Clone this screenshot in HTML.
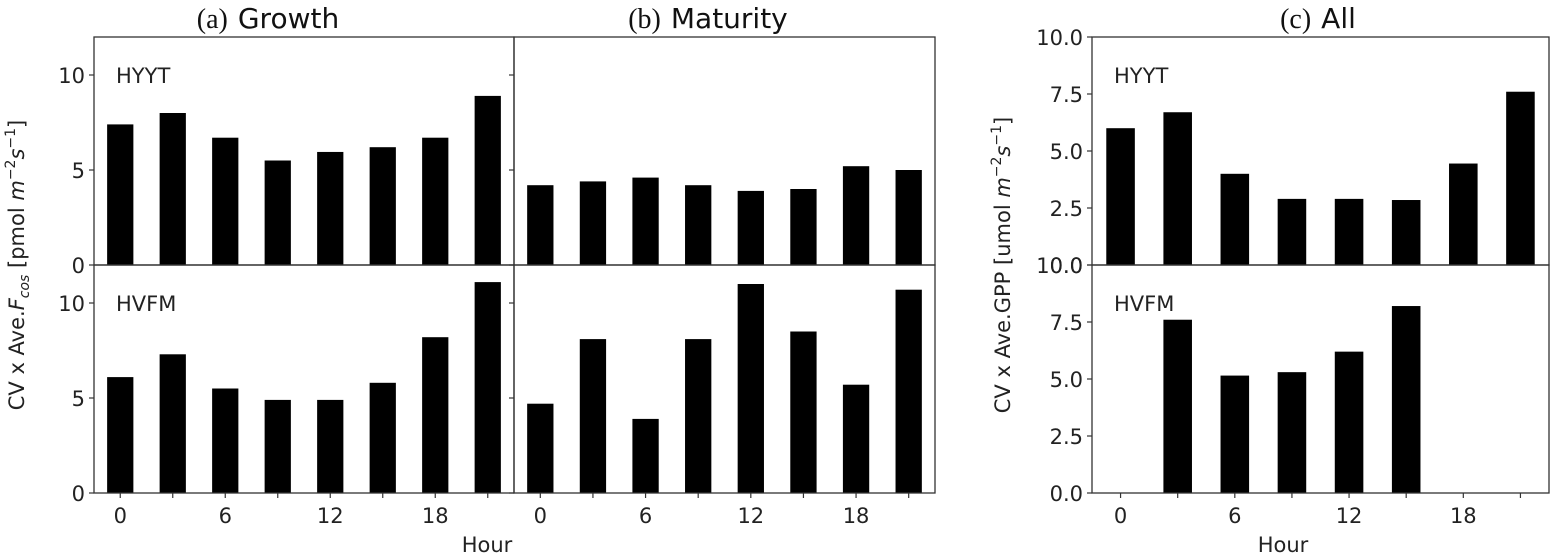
<!DOCTYPE html>
<html><head><meta charset="utf-8">
<style>
html,body{margin:0;padding:0;background:#fff;}
svg{display:block;font-family:"DejaVu Sans","Liberation Sans",sans-serif;}
</style></head>
<body>
<svg id="chart" width="1550" height="559" viewBox="0 0 1550 559" xmlns="http://www.w3.org/2000/svg"></svg>
<script>
const hours = [0,3,6,9,12,15,18,21];
const xTickLabels = [0,6,12,18];
const growthHYYT = [7.4,8.0,6.7,5.5,5.95,6.2,6.7,8.9];
const growthHVFM = [6.1,7.3,5.5,4.9,4.9,5.8,8.2,11.1];
const maturityHYYT = [4.2,4.4,4.6,4.2,3.9,4.0,5.2,5.0];
const maturityHVFM = [4.7,8.1,3.9,8.1,11.0,8.5,5.7,10.7];
const allHYYT = [6.0,6.7,4.0,2.9,2.9,2.85,4.45,7.6];
const allHVFM = [0,7.6,5.15,5.3,6.2,8.2,0,0];
const ticksAB = [0,5,10];
const ticksC = [0,2.5,5,7.5,10];

const svg = document.getElementById('chart');
const NS = 'http://www.w3.org/2000/svg';
function mk(tag, attrs, parent){
  const e = document.createElementNS(NS, tag);
  for (const k in attrs) e.setAttribute(k, attrs[k]);
  (parent||svg).appendChild(e);
  return e;
}

function panel(name, x0, x1, yTop, yBot, ymax, vals, site, yticks, showY, showX, fmt){
  const g = mk('g', {});
  
  
  const xs = h => x0 + (h + 1.5) / 24 * (x1 - x0);
  const ys = v => yBot - v / ymax * (yBot - yTop);
  const bw = 1.5 / 24 * (x1 - x0);
  vals.forEach((v, i) => {
    if (v <= 0) return;
    const r = mk('rect', {x: xs(hours[i]) - bw/2, y: ys(v), width: bw, height: yBot - ys(v), fill: '#000'}, g);
    
    
  });
  const fr = mk('rect', {x: x0, y: yTop, width: x1 - x0, height: yBot - yTop, fill: 'none', stroke: '#333', 'stroke-width': 1.3}, g);
  
  
  yticks.forEach(t => {
    const y = ys(t);
    mk('line', {x1: x0 - 5, x2: x0, y1: y, y2: y, stroke: '#333', 'stroke-width': 1.2}, g);
    if (showY) {
      const tx = mk('text', {x: x0 - 9, y: y + 8, 'text-anchor': 'end', 'font-size': 21, fill: '#222'}, g);
      tx.textContent = fmt(t);
      
      
    }
  });
  if (showX) {
    hours.forEach(h => {
      mk('line', {x1: xs(h), x2: xs(h), y1: yBot, y2: yBot + 5, stroke: '#333', 'stroke-width': 1.2}, g);
    });
    xTickLabels.forEach(h => {
      const tx = mk('text', {x: xs(h), y: yBot + 30, 'text-anchor': 'middle', 'font-size': 21, fill: '#222'}, g);
      tx.textContent = h;
      
      
    });
  }
  const lb = mk('text', {x: x0 + 22, y: yTop + 46, 'font-size': 21, fill: '#222'}, g);
  lb.textContent = site;
  
  
}

const fInt = t => String(t);
const fDec = t => t.toFixed(1);
panel('growth-hyyt', 94, 514, 37, 265, 12, growthHYYT, 'HYYT', ticksAB, true, false, fInt);
panel('growth-hvfm', 94, 514, 265, 493, 12, growthHVFM, 'HVFM', ticksAB, true, true, fInt);
panel('maturity-hyyt', 514, 935, 37, 265, 12, maturityHYYT, '', ticksAB, false, false, fInt);
panel('maturity-hvfm', 514, 935, 265, 493, 12, maturityHVFM, '', ticksAB, false, true, fInt);
panel('all-hyyt', 1092, 1549, 37, 265, 10, allHYYT, 'HYYT', ticksC, true, false, fDec);
panel('all-hvfm', 1092, 1549, 265, 493, 10, allHVFM, 'HVFM', ticksC, true, true, fDec);

function txt(name, attrs, html){
  const t = mk('text', attrs);
  t.innerHTML = html;
  
  
  return t;
}
txt('title-growth', {x: 268, y: 28, 'text-anchor': 'middle', 'font-size': 28, fill: '#111'}, '<tspan font-family=\'"Liberation Serif",serif\'>(a)</tspan><tspan dx="10">Growth</tspan>');
txt('title-maturity', {x: 708, y: 28, 'text-anchor': 'middle', 'font-size': 28, fill: '#111'}, '<tspan font-family=\'"Liberation Serif",serif\'>(b)</tspan><tspan dx="10">Maturity</tspan>');
txt('title-all', {x: 1318, y: 28, 'text-anchor': 'middle', 'font-size': 28, fill: '#111'}, '<tspan font-family=\'"Liberation Serif",serif\'>(c)</tspan><tspan dx="10">All</tspan>');
txt('x-axis-title-left', {x: 487, y: 552, 'text-anchor': 'middle', 'font-size': 21, fill: '#222'}, 'Hour');
txt('x-axis-title-right', {x: 1283, y: 552, 'text-anchor': 'middle', 'font-size': 21, fill: '#222'}, 'Hour');
txt('y-axis-title-left', {x: 0, y: 0, transform: 'translate(24,265) rotate(-90)', 'text-anchor': 'middle', 'font-size': 21, fill: '#222'}, 'CV x Ave.<tspan font-style="italic">F</tspan><tspan font-style="italic" font-size="14" dy="5">cos</tspan><tspan dy="-5"> [pmol </tspan><tspan font-style="italic">m</tspan><tspan font-size="14" dy="-9">−2</tspan><tspan font-style="italic" dy="9">s</tspan><tspan font-size="14" dy="-9">−1</tspan><tspan dy="9">]</tspan>');
txt('y-axis-title-right', {x: 0, y: 0, transform: 'translate(1010,265) rotate(-90)', 'text-anchor': 'middle', 'font-size': 21, fill: '#222'}, 'CV x Ave.GPP [umol <tspan font-style="italic">m</tspan><tspan font-size="14" dy="-9">−2</tspan><tspan font-style="italic" dy="9">s</tspan><tspan font-size="14" dy="-9">−1</tspan><tspan dy="9">]</tspan>');
</script>
</body></html>
